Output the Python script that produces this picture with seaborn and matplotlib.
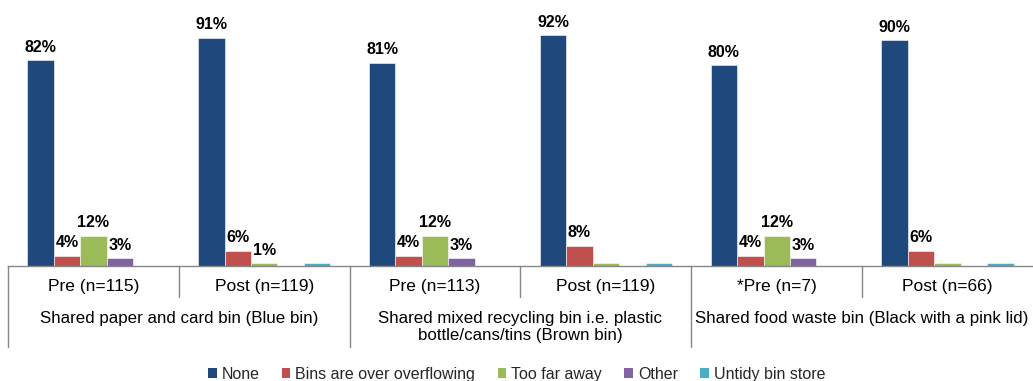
import matplotlib
matplotlib.use("Agg")
import matplotlib.pyplot as plt
import matplotlib.transforms as mtransforms
from matplotlib.patches import Patch
import numpy as np
import pandas as pd
import seaborn as sns

# --- data -------------------------------------------------------------
groups = [
    "Shared paper and card bin (Blue bin)",
    "Shared mixed recycling bin i.e. plastic\nbottle/cans/tins (Brown bin)",
    "Shared food waste bin (Black with a pink lid)",
]
subgroups = ["Pre (n=115)", "Post (n=119)", "Pre (n=113)", "Post (n=119)", "*Pre (n=7)", "Post (n=66)"]
reasons = ["None", "Bins are over overflowing", "Too far away", "Other", "Untidy bin store"]

none_vals = [82, 91, 81, 92, 80, 90]
overflow_vals = [4, 6, 4, 8, 4, 6]
too_far_vals = [12, 1, 12, 1, 12, 1]
other_vals = [3, 0, 3, 0, 3, 0]
untidy_vals = [0, 1, 0, 1, 0, 1]

# which values carry a printed label
none_lbl = [True] * 6
overflow_lbl = [True] * 6
too_far_lbl = [True, True, True, False, True, False]
other_lbl = [True, False, True, False, True, False]
untidy_lbl = [False] * 6

colors = ["#1F497D", "#C0504D", "#9BBB59", "#8064A2", "#4BACC6"]

# --- build long table ---------------------------------------------------
series = [none_vals, overflow_vals, too_far_vals, other_vals, untidy_vals]
flags = [none_lbl, overflow_lbl, too_far_lbl, other_lbl, untidy_lbl]
slots = [f"s{i}" for i in range(len(subgroups))]
rows = []
for r, vals, fl in zip(reasons, series, flags):
    for s, v, f in zip(slots, vals, fl):
        rows.append({"slot": s, "reason": r, "pct": v, "show": f})
df = pd.DataFrame(rows)

# --- figure -------------------------------------------------------------
sns.set_style("white")
plt.rcParams["font.family"] = ["Liberation Sans", "DejaVu Sans"]

W, H = 1033, 381
fig = plt.figure(figsize=(W / 100, H / 100), dpi=100)
ax = fig.add_axes([8 / W, (H - 266) / H, 1025 / W, 251 / H])

sns.barplot(data=df, x="slot", y="pct", hue="reason", order=slots, hue_order=reasons,
            palette=colors, width=0.775, dodge=True, ax=ax, legend=False,
            edgecolor="white", linewidth=0.4, saturation=1)

ax.set_xlim(-0.5, len(slots) - 0.5)
ax.set_ylim(0, 100)
ax.set_xlabel("")
ax.set_ylabel("")
ax.set_xticks([])
ax.set_yticks([])
for side in ["top", "right", "left"]:
    ax.spines[side].set_visible(False)
ax.spines["bottom"].set_color("#868686")
ax.spines["bottom"].set_linewidth(1)

# value labels
for container, r in zip(ax.containers, reasons):
    sub = df[df["reason"] == r].set_index("slot").loc[slots]
    labels = [f"{v}%" if s else "" for v, s in zip(sub["pct"], sub["show"])]
    ax.bar_label(container, labels=labels, padding=4, fontsize=11.5,
                 fontweight="bold", color="#000000")

# category axis: separators and labels
trans = mtransforms.blended_transform_factory(ax.transData, ax.transAxes)
short_y = -31 / 251
long_y = -81 / 251
for i in range(len(slots)):
    xpos = i - 0.5
    y_end = long_y if i % 2 == 0 else short_y
    ax.plot([xpos, xpos], [0, y_end], color="#868686", lw=1, transform=trans, clip_on=False)

for i, lab in enumerate(subgroups):
    ax.text(i, -21 / 251, lab, transform=trans, ha="center", va="center", fontsize=12.5, color="#000000")

for g, lab in enumerate(groups):
    ax.text(2 * g + 0.5, -45 / 251, lab, transform=trans, ha="center", va="top",
            fontsize=12.2, color="#000000", linespacing=1.2)

# legend
handles = [Patch(facecolor=c, edgecolor="none", label=r) for r, c in zip(reasons, colors)]
fig.legend(handles=handles, loc="lower center", bbox_to_anchor=(0.5, -0.04), ncol=5,
           frameon=False, fontsize=11.5, handlelength=0.55, handleheight=0.55,
           handletextpad=0.3, columnspacing=1.4)

fig.savefig("out.png", dpi=100)
